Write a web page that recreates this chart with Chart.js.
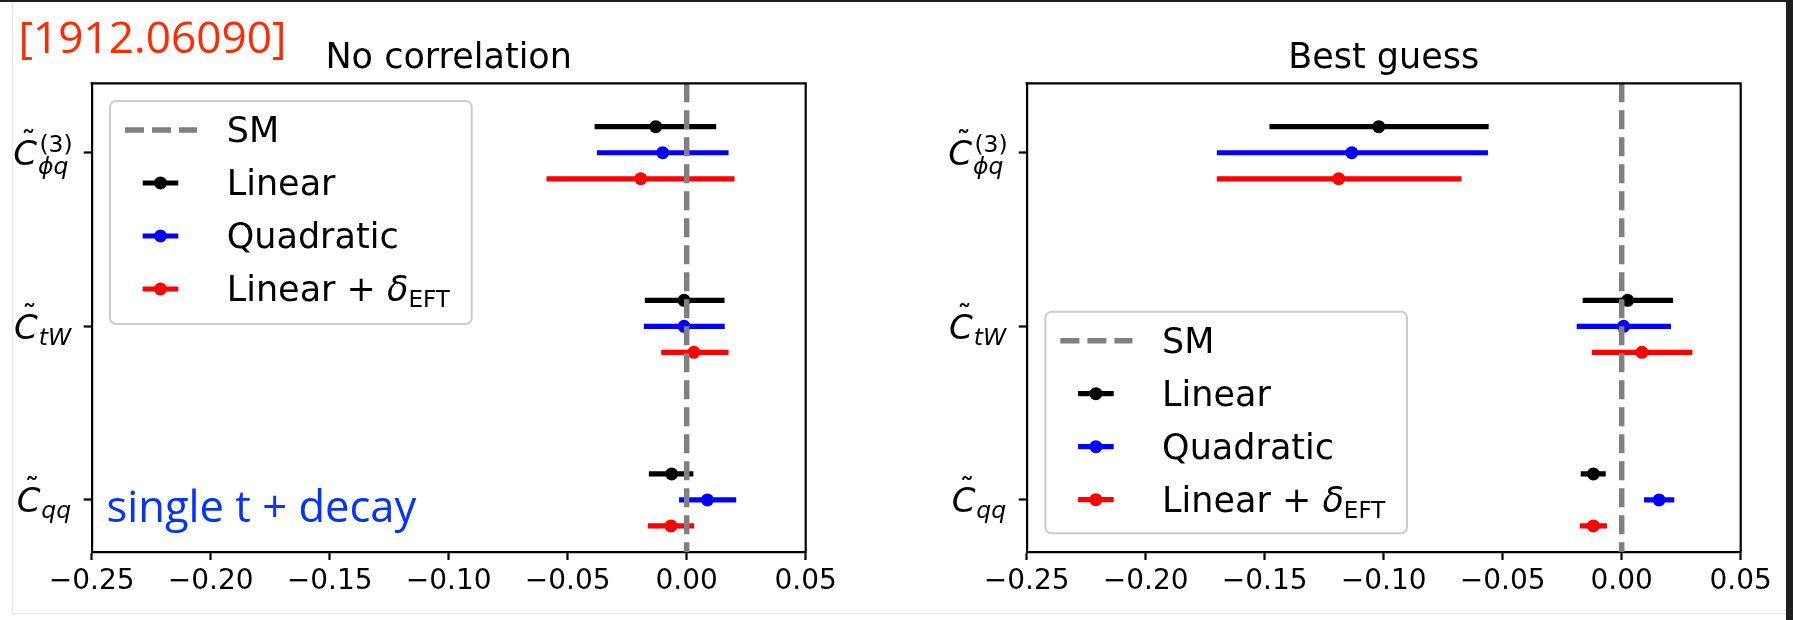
<!DOCTYPE html>
<html>
<head>
<meta charset="utf-8">
<title>Single top + decay: EFT coefficient bounds</title>
<script src="https://cdn.jsdelivr.net/npm/chart.js@4.4.1/dist/chart.umd.min.js"></script>
<style>
  html, body { margin: 0; padding: 0; background: #fff; }
  body { width: 1793px; height: 620px; position: relative; overflow: hidden; }
  canvas { position: absolute; top: 0; }
  #topbar { position: absolute; left: 0; top: 0; width: 1793px; height: 2px; background: #1f1f1f; }
  #rightbar { position: absolute; left: 1786px; top: 0; width: 7px; height: 620px; background: #1f1f1f; }
  #edgeL { position: absolute; left: 12px; top: 2px; width: 1px; height: 612px; background: #e4e4e4; }
  #edgeB { position: absolute; left: 12px; top: 613px; width: 1774px; height: 1px; background: #e4e4e4; }
  .note { position: absolute; white-space: nowrap; font-family: "Open Sans", sans-serif; line-height: 1; }
  .note i { display: inline-block; width: 0; height: 0; vertical-align: baseline; }
</style>
</head>
<body>
<div id="topbar"></div>
<div id="rightbar"></div>
<div id="edgeL"></div>
<div id="edgeB"></div>
<canvas id="noCorr" width="900" height="620" style="left:0"></canvas>
<canvas id="bestGuess" width="886" height="620" style="left:900px"></canvas>
<div class="note" id="arxiv" style="color:#ff2a00"><span>[1912.06090]</span><i></i></div>
<div class="note" id="process" style="color:#0433ff"><span>single t + decay</span><i></i></div>

<script>
// ---- coefficients (top to bottom) and series ----
const coefficientRows = [0, 1, 2];
const coefficientLabels = [
  { sub: 'ϕq', sup: '(3)' },
  { sub: 'tW' },
  { sub: 'qq' }
];
const seriesNames = ['Linear', 'Quadratic', 'Linear + δEFT'];
const seriesColors = ['#000000', '#0000ff', '#ff0000'];
const rowOffsets = [-0.15, 0, 0.15];
const xTickValues = [-0.25, -0.2, -0.15, -0.1, -0.05, 0, 0.05];
const smValue = 0;

// ---- "No correlation" fit: central value and interval per coefficient ----
const noCorrLinearCentral = [-0.0130, -0.0011, -0.0063];
const noCorrLinearLow     = [-0.0387, -0.0176, -0.0159];
const noCorrLinearHigh    = [ 0.0124,  0.0159,  0.0028];
const noCorrQuadCentral   = [-0.0101, -0.0011,  0.0087];
const noCorrQuadLow       = [-0.0377, -0.0180, -0.0032];
const noCorrQuadHigh      = [ 0.0176,  0.0160,  0.0208];
const noCorrDeltaCentral  = [-0.0193,  0.0030, -0.0066];
const noCorrDeltaLow      = [-0.0589, -0.0107, -0.0163];
const noCorrDeltaHigh     = [ 0.0201,  0.0176,  0.0031];

// ---- "Best guess" fit ----
const bestLinearCentral = [-0.1021,  0.0025, -0.0119];
const bestLinearLow     = [-0.1480, -0.0164, -0.0172];
const bestLinearHigh    = [-0.0559,  0.0216, -0.0067];
const bestQuadCentral   = [-0.1134,  0.0008,  0.0157];
const bestQuadLow       = [-0.1701, -0.0189,  0.0094];
const bestQuadHigh      = [-0.0562,  0.0207,  0.0221];
const bestDeltaCentral  = [-0.1189,  0.0085, -0.0119];
const bestDeltaLow      = [-0.1701, -0.0125, -0.0176];
const bestDeltaHigh     = [-0.0673,  0.0297, -0.0062];

const Y_MIN = -0.4, Y_MAX = 2.3;
const FONT = '"DejaVu Sans"';
const BAR_WIDTH = 5.2, DOT_RADIUS = 6.5, SM_WIDTH = 5.5, SM_DASH = [19, 8];

function buildDatasets(series) {
  const datasets = [{
    label: 'SM',
    data: [{ x: smValue, y: Y_MIN }, { x: smValue, y: Y_MAX }],
    showLine: true, borderColor: '#808080', borderWidth: SM_WIDTH, borderDash: SM_DASH,
    borderCapStyle: 'butt', pointRadius: 0, order: 0
  }];
  series.forEach((s, k) => {
    coefficientRows.forEach((row, i) => {
      const y = row + rowOffsets[k];
      datasets.push({
        label: seriesNames[k] + ' interval',
        data: [{ x: s.low[i], y }, { x: s.high[i], y }],
        showLine: true, borderColor: seriesColors[k], borderWidth: BAR_WIDTH,
        borderCapStyle: 'butt', pointRadius: 0, order: 2
      });
    });
    datasets.push({
      label: seriesNames[k],
      data: s.central.map((c, i) => ({ x: c, y: coefficientRows[i] + rowOffsets[k] })),
      showLine: false, pointRadius: DOT_RADIUS, pointHoverRadius: DOT_RADIUS,
      backgroundColor: seriesColors[k], borderWidth: 0, order: 1
    });
  });
  return datasets;
}

function fmtTick(v) {
  const s = Math.abs(v).toFixed(2);
  return v < -1e-9 ? '\u2212' + s : s;
}

function roundRect(ctx, x, y, w, h, r) {
  ctx.beginPath();
  ctx.moveTo(x + r, y);
  ctx.lineTo(x + w - r, y); ctx.arcTo(x + w, y, x + w, y + r, r);
  ctx.lineTo(x + w, y + h - r); ctx.arcTo(x + w, y + h, x + w - r, y + h, r);
  ctx.lineTo(x + r, y + h); ctx.arcTo(x, y + h, x, y + h - r, r);
  ctx.lineTo(x, y + r); ctx.arcTo(x, y, x + r, y, r);
  ctx.closePath();
}

// Coefficient name: tilde-C with italic subscript and optional superscript
function drawCoefficient(ctx, lab, right, yTick) {
  const big = 34, small = 23.5;
  ctx.font = `italic ${big}px ${FONT}`;
  const cW = ctx.measureText('C').width;
  ctx.font = `italic ${small}px ${FONT}`;
  const subW = ctx.measureText(lab.sub).width;
  ctx.font = `${small}px ${FONT}`;
  const supW = lab.sup ? ctx.measureText(lab.sup).width : 0;
  const x0 = right - cW - 1.5 - Math.max(subW, supW);
  const base = yTick + 12.5;
  ctx.textBaseline = 'alphabetic';
  ctx.textAlign = 'left';
  ctx.font = `italic ${big}px ${FONT}`;
  ctx.fillText('C', x0, base);
  ctx.font = `30px ${FONT}`;
  ctx.textAlign = 'center';
  ctx.fillText('\u02DC', x0 + cW * 0.5 + 3.5, base - 13);
  ctx.textAlign = 'left';
  ctx.font = `italic ${small}px ${FONT}`;
  ctx.fillText(lab.sub, x0 + cW + 1, base + (lab.sup ? 9 : 6));
  if (lab.sup) {
    ctx.font = `${small}px ${FONT}`;
    ctx.fillText(lab.sup, x0 + cW + 2.5, base - 13);
  }
}

function drawLegend(ctx, box) {
  ctx.save();
  roundRect(ctx, box.left, box.top, box.width, box.height, 6);
  ctx.fillStyle = 'rgba(255,255,255,0.8)';
  ctx.fill();
  ctx.strokeStyle = '#cccccc';
  ctx.lineWidth = 2;
  ctx.stroke();

  const rowY = i => box.top + 29 + i * 53;
  const textX = box.left + 116.7;
  ctx.textBaseline = 'alphabetic';
  ctx.textAlign = 'left';
  ctx.fillStyle = '#000';

  // SM handle
  ctx.strokeStyle = '#808080';
  ctx.lineWidth = SM_WIDTH;
  ctx.setLineDash(SM_DASH);
  ctx.lineCap = 'butt';
  ctx.beginPath();
  ctx.moveTo(box.left + 15, rowY(0));
  ctx.lineTo(box.left + 87, rowY(0));
  ctx.stroke();
  ctx.setLineDash([]);
  ctx.font = `35px ${FONT}`;
  ctx.fillText('SM', textX, rowY(0) + 12);

  seriesNames.forEach((name, k) => {
    const y = rowY(k + 1);
    ctx.strokeStyle = seriesColors[k];
    ctx.lineWidth = BAR_WIDTH;
    ctx.beginPath();
    ctx.moveTo(box.left + 32.7, y);
    ctx.lineTo(box.left + 68.3, y);
    ctx.stroke();
    ctx.fillStyle = seriesColors[k];
    ctx.beginPath();
    ctx.arc(box.left + 50.5, y, DOT_RADIUS, 0, Math.PI * 2);
    ctx.fill();
    ctx.fillStyle = '#000';
    ctx.font = `35px ${FONT}`;
    if (name === 'Linear + δEFT') {
      const head = 'Linear + ';
      ctx.fillText(head, textX, y + 12);
      let x = textX + ctx.measureText(head).width;
      ctx.font = `italic 35px ${FONT}`;
      ctx.fillText('δ', x, y + 12);
      x += ctx.measureText('δ').width;
      ctx.font = `23px ${FONT}`;
      ctx.fillText('EFT', x, y + 18);
    } else {
      ctx.fillText(name, textX, y + 12);
    }
  });
  ctx.restore();
}

const panelDecor = {
  id: 'panelDecor',
  afterDraw(chart, args, opts) {
    const { ctx, chartArea: a } = chart;
    ctx.save();
    // top and right spines
    ctx.strokeStyle = '#000';
    ctx.lineWidth = 2.2;
    ctx.beginPath();
    ctx.moveTo(a.left - 1.1, a.top);
    ctx.lineTo(a.right, a.top);
    ctx.lineTo(a.right, a.bottom + 1.1);
    ctx.stroke();
    // title
    ctx.fillStyle = '#000';
    ctx.font = `35px ${FONT}`;
    ctx.textAlign = 'center';
    ctx.textBaseline = 'alphabetic';
    ctx.fillText(opts.title, (a.left + a.right) / 2, 68.3);
    // coefficient names on the y axis
    const yScale = chart.scales.y;
    coefficientRows.forEach((row, i) => {
      drawCoefficient(ctx, coefficientLabels[i], a.left - 20, yScale.getPixelForValue(row));
    });
    ctx.restore();
    drawLegend(ctx, opts.legendBox);
  }
};

function makePanel(canvasId, title, series, yAxisWidth, rightPad, legendBox) {
  const axisGrid = {
    drawOnChartArea: false, drawTicks: true, tickLength: 8,
    tickWidth: 2.2, tickColor: '#000'
  };
  const axisBorder = { display: true, color: '#000', width: 2.2 };
  return new Chart(document.getElementById(canvasId), {
    type: 'scatter',
    data: { datasets: buildDatasets(series) },
    options: {
      responsive: false,
      animation: false,
      events: [],
      layout: { padding: { left: 0, top: 83.3, right: rightPad, bottom: 0 } },
      scales: {
        x: {
          type: 'linear', position: 'bottom', min: -0.25, max: 0.05,
          afterBuildTicks: s => { s.ticks = xTickValues.map(v => ({ value: v })); },
          afterFit: s => { s.height = 68; },
          ticks: {
            callback: v => fmtTick(v), autoSkip: false, maxRotation: 0,
            font: { family: 'DejaVu Sans', size: 28 }, color: '#000', padding: 4.5
          },
          grid: axisGrid, border: axisBorder
        },
        y: {
          type: 'linear', position: 'left', min: Y_MIN, max: Y_MAX, reverse: true,
          afterBuildTicks: s => { s.ticks = coefficientRows.map(v => ({ value: v })); },
          afterFit: s => { s.width = yAxisWidth; },
          ticks: { display: false },
          grid: axisGrid, border: axisBorder
        }
      },
      plugins: {
        legend: { display: false },
        tooltip: { enabled: false },
        panelDecor: { title, legendBox }
      }
    },
    plugins: [panelDecor]
  });
}

makePanel('noCorr', 'No correlation', [
  { central: noCorrLinearCentral, low: noCorrLinearLow, high: noCorrLinearHigh },
  { central: noCorrQuadCentral, low: noCorrQuadLow, high: noCorrQuadHigh },
  { central: noCorrDeltaCentral, low: noCorrDeltaLow, high: noCorrDeltaHigh }
], 91.7, 94.3, { left: 110, top: 101, width: 361.7, height: 223 });

makePanel('bestGuess', 'Best guess', [
  { central: bestLinearCentral, low: bestLinearLow, high: bestLinearHigh },
  { central: bestQuadCentral, low: bestQuadLow, high: bestQuadHigh },
  { central: bestDeltaCentral, low: bestDeltaLow, high: bestDeltaHigh }
], 126.7, 45.3, { left: 145.4, top: 311.7, width: 361.6, height: 221.6 });

// Slide annotations, sized to their line width and set on a baseline
function placeNote(id, left, baseline, width) {
  const el = document.getElementById(id);
  const span = el.querySelector('span');
  const mark = el.querySelector('i');
  el.style.fontSize = '40px';
  const w = span.getBoundingClientRect().width;
  el.style.fontSize = (40 * width / w) + 'px';
  el.style.left = left + 'px';
  el.style.top = '0px';
  const off = mark.getBoundingClientRect().top - el.getBoundingClientRect().top;
  el.style.top = (baseline - off) + 'px';
}
placeNote('arxiv', 18.5, 53.3, 268);
placeNote('process', 106.5, 522, 310);
</script>
</body>
</html>
